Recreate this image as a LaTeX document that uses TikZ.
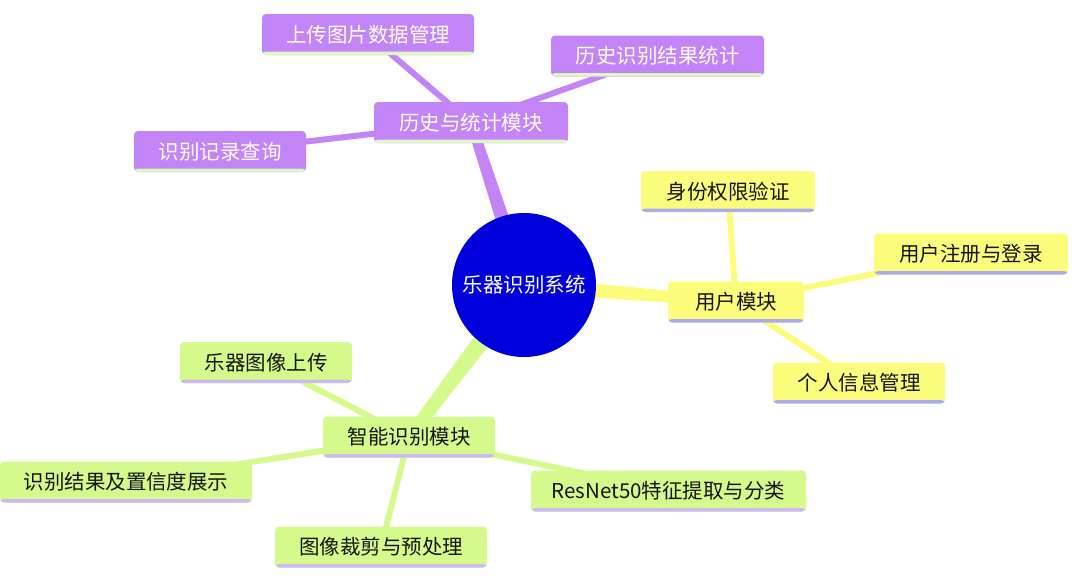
\documentclass[tikz,border=0pt]{standalone}
\usepackage{fontspec}
\setmainfont{Noto Sans CJK SC}
\usetikzlibrary{calc,backgrounds}
\definecolor{cpurple}{HTML}{C284F7}
\definecolor{cyellow}{HTML}{FCFC7C}
\definecolor{cgreen}{HTML}{D5FA8C}
\definecolor{ulpurple}{HTML}{DCF7C2}
\definecolor{ulyellow}{HTML}{AAAAEE}
\definecolor{ulgreen}{HTML}{CDB8F0}
\definecolor{cblue}{HTML}{0000DD}
\definecolor{ctext}{HTML}{151515}
\tikzset{
  box/.style={rounded corners=4pt, inner xsep=0pt, inner ysep=0pt, minimum height=41pt,
    font=\fontsize{20.5}{24}\selectfont},
  pbox/.style={box, fill=cpurple, text=white,
    path picture={\fill[ulpurple] (path picture bounding box.south west) rectangle ([yshift=3.5pt]path picture bounding box.south east);}},
  ybox/.style={box, fill=cyellow, text=ctext,
    path picture={\fill[ulyellow] (path picture bounding box.south west) rectangle ([yshift=3.5pt]path picture bounding box.south east);}},
  gbox/.style={box, fill=cgreen, text=ctext,
    path picture={\fill[ulgreen] (path picture bounding box.south west) rectangle ([yshift=3.5pt]path picture bounding box.south east);}},
  hub/.style={circle, fill=cblue, text=white, minimum size=144pt, inner sep=0pt,
    font=\fontsize{20.5}{24}\selectfont},
  sub/.style={line width=6pt},
}
\begin{document}
\begin{tikzpicture}[x=1pt,y=-1pt]
\useasboundingbox (0,0) rectangle (1080,584);
\node[hub] (c) at (524,285) {乐器识别系统};
% history module
\node[pbox, minimum width=194pt] (hist) at (471,122.5) {历史与统计模块};
\node[pbox, minimum width=212pt] (h1) at (368,34.5) {上传图片数据管理};
\node[pbox, minimum width=213pt] (h2) at (657.5,56) {历史识别结果统计};
\node[pbox, minimum width=172pt] (h3) at (220,151.5) {识别记录查询};
% user module
\node[ybox, minimum width=136pt] (user) at (736,302) {用户模块};
\node[ybox, minimum width=174pt] (u1) at (728,191.5) {身份权限验证};
\node[ybox, minimum width=194pt] (u2) at (971,254) {用户注册与登录};
\node[ybox, minimum width=172pt] (u3) at (859,383) {个人信息管理};
% smart module
\node[gbox, minimum width=172pt] (smart) at (409,437) {智能识别模块};
\node[gbox, minimum width=172pt] (s1) at (266,362.5) {乐器图像上传};
\node[gbox, minimum width=252pt] (s2) at (126,482) {识别结果及置信度展示};
\node[gbox, minimum width=275pt] (s3) at (668.5,491) {ResNet50特征提取与分类};
\node[gbox, minimum width=212pt] (s4) at (381,547) {图像裁剪与预处理};
\begin{scope}[on background layer]
  % tapered main branches
  \fill[cpurple] ($(c.center)!8pt!90:(hist.center)$) -- ($(hist.center)!5pt!-90:(c.center)$)
     -- ($(hist.center)!5pt!90:(c.center)$) -- ($(c.center)!8pt!-90:(hist.center)$) -- cycle;
  \fill[cyellow] ($(c.center)!8pt!90:(user.center)$) -- ($(user.center)!5pt!-90:(c.center)$)
     -- ($(user.center)!5pt!90:(c.center)$) -- ($(c.center)!8pt!-90:(user.center)$) -- cycle;
  \fill[cgreen] ($(c.center)!10pt!90:(smart.center)$) -- ($(smart.center)!6pt!-90:(c.center)$)
     -- ($(smart.center)!6pt!90:(c.center)$) -- ($(c.center)!10pt!-90:(smart.center)$) -- cycle;
  % sub branches
  \draw[sub, cpurple] (hist.center) -- (h1.center);
  \draw[sub, cpurple] (hist.center) -- (h2.center);
  \draw[sub, cpurple] (hist.center) -- (h3.center);
  \draw[sub, cyellow] (user.center) -- (u1.center);
  \draw[sub, cyellow] (user.center) -- (u2.center);
  \draw[sub, cyellow] (user.center) -- (u3.center);
  \draw[sub, cgreen] (smart.center) -- (s1.center);
  \draw[sub, cgreen] (smart.center) -- (s2.center);
  \draw[sub, cgreen] (smart.center) -- (s3.center);
  \draw[sub, cgreen] (smart.center) -- (s4.center);
\end{scope}
\end{tikzpicture}
\end{document}
